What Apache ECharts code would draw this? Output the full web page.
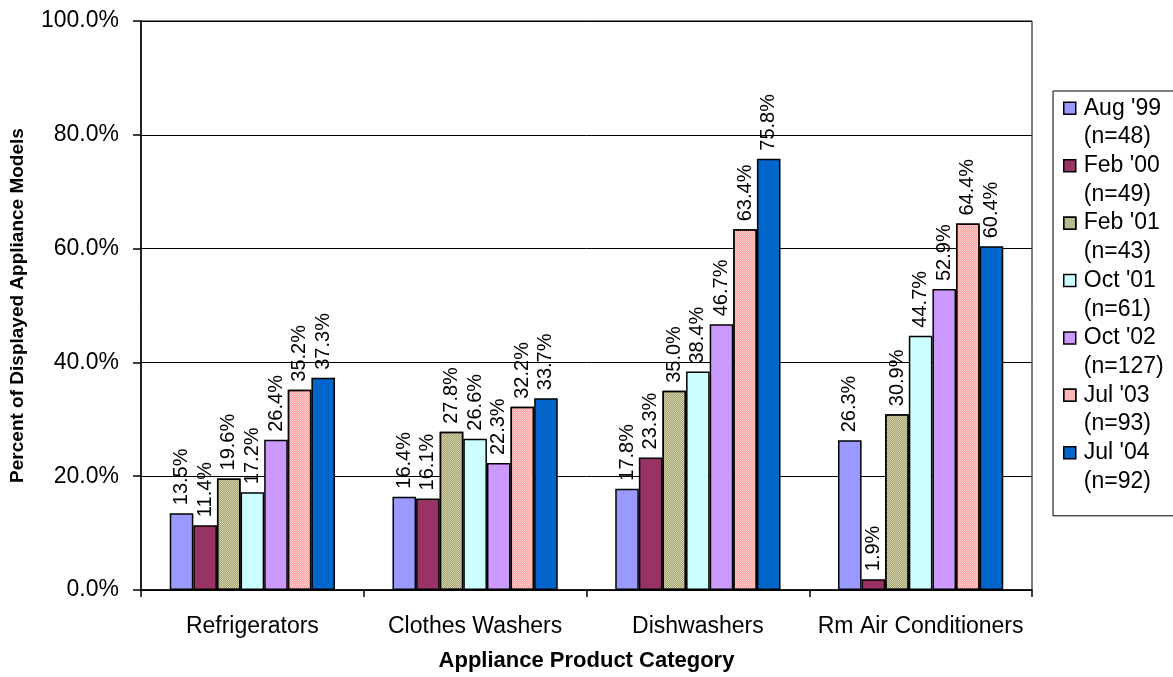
<!DOCTYPE html>
<html>
<head>
<meta charset="utf-8">
<script src="https://cdn.jsdelivr.net/npm/echarts@6/dist/echarts.min.js"></script>
<style>
html,body{margin:0;padding:0;background:#fff;}
#chart{width:1173px;height:677px;}
</style>
</head>
<body>
<div id="chart"></div>
<script>
const categories = ['Refrigerators', 'Clothes Washers', 'Dishwashers', 'Rm Air Conditioners'];
const surveyNames = ["Aug '99", "Feb '00", "Feb '01", "Oct '01", "Oct '02", "Jul '03", "Jul '04"];
const sampleSizes = [48, 49, 43, 61, 127, 93, 92];

const aug99 = [13.5, 16.4, 17.8, 26.3];
const feb00 = [11.4, 16.1, 23.3, 1.9];
const feb01 = [19.6, 27.8, 35.0, 30.9];
const oct01 = [17.2, 26.6, 38.4, 44.7];
const oct02 = [26.4, 22.3, 46.7, 52.9];
const jul03 = [35.2, 32.2, 63.4, 64.4];
const jul04 = [37.3, 33.7, 75.8, 60.4];

const yTicks = { min: 0, max: 100, interval: 20 };

const seriesValues = [aug99, feb00, feb01, oct01, oct02, jul03, jul04];
const FONT = 'Arial, "Liberation Sans", sans-serif';

const fills = ['#9999FF', '#993366', '#D2D2A6', '#CCFFFF', '#CC99FF', '#FFCACA', '#0066CC'];
const decals = [null, null,
  { symbol: 'rect', symbolSize: 1, dashArrayX: [[1, 1], [0, 1, 1, 0]], dashArrayY: [1, 0], color: '#A3A377' },
  null, null,
  { symbol: 'rect', symbolSize: 1, dashArrayX: [[1, 1], [0, 1, 1, 0]], dashArrayY: [1, 0], color: '#FFA3A3' },
  null];

const series = seriesValues.map((vals, i) => {
  const itemStyle = { color: fills[i], borderColor: '#000', borderWidth: 1.5 };
  if (decals[i]) itemStyle.decal = decals[i];
  return {
    name: surveyNames[i] + '\n(n=' + sampleSizes[i] + ')',
    type: 'bar',
    data: vals,
    barGap: '0%',
    barCategoryGap: '25.8%',
    itemStyle: itemStyle,
    emphasis: { disabled: true },
    label: {
      show: true,
      position: 'top',
      rotate: 90,
      align: 'left',
      verticalAlign: 'middle',
      distance: 8,
      color: '#000',
      fontFamily: FONT,
      fontSize: 20,
      formatter: p => p.value.toFixed(1) + '%'
    }
  };
});

const chart = echarts.init(document.getElementById('chart'), null, { renderer: 'canvas' });
chart.setOption({
  animation: false,
  backgroundColor: '#fff',
  grid: {
    left: 141, right: 141, top: 21, bottom: 87,
    show: true, borderColor: '#000', borderWidth: 1, backgroundColor: 'transparent'
  },
  legend: {
    orient: 'vertical',
    left: 1053,
    top: 91,
    padding: [3, 10, 20, 10],
    itemGap: 0,
    itemWidth: 12,
    itemHeight: 40.7,
    icon: 'path://M0,0L10,0L10,10L0,10ZM0,33.9L0,33.9',
    itemStyle: { borderColor: '#000', borderWidth: 1.5 },
    borderColor: '#000',
    borderWidth: 1,
    backgroundColor: '#fff',
    selectedMode: false,
    textStyle: {
      fontFamily: FONT,
      fontSize: 23,
      lineHeight: 28.7,
      color: '#000',
      padding: [0, 0, 0, 3]
    }
  },
  xAxis: {
    type: 'category',
    data: categories,
    name: 'Appliance Product Category',
    nameLocation: 'middle',
    nameGap: 60,
    nameTextStyle: { fontFamily: FONT, fontSize: 22, fontWeight: 'bold', color: '#000' },
    axisLine: { lineStyle: { color: '#000', width: 1.5 } },
    axisTick: { show: true, interval: 0, length: 7, lineStyle: { color: '#000', width: 1.5 } },
    axisLabel: { interval: 0, fontFamily: FONT, fontSize: 23, color: '#000', margin: 25 }
  },
  yAxis: {
    type: 'value',
    min: yTicks.min,
    max: yTicks.max,
    interval: yTicks.interval,
    name: 'Percent of Displayed Appliance Models',
    nameLocation: 'middle',
    nameGap: 114,
    nameRotate: 90,
    nameTextStyle: { fontFamily: FONT, fontSize: 19, fontWeight: 'bold', color: '#000' },
    axisLine: { show: true, lineStyle: { color: '#000', width: 1.5 } },
    axisTick: { show: true, length: 8, lineStyle: { color: '#000', width: 1.5 } },
    axisLabel: { fontFamily: FONT, fontSize: 23, color: '#000', margin: 22, formatter: v => v.toFixed(1) + '%' },
    splitLine: { show: true, lineStyle: { color: '#000', width: 1 } }
  },
  series: series
});
</script>
</body>
</html>
